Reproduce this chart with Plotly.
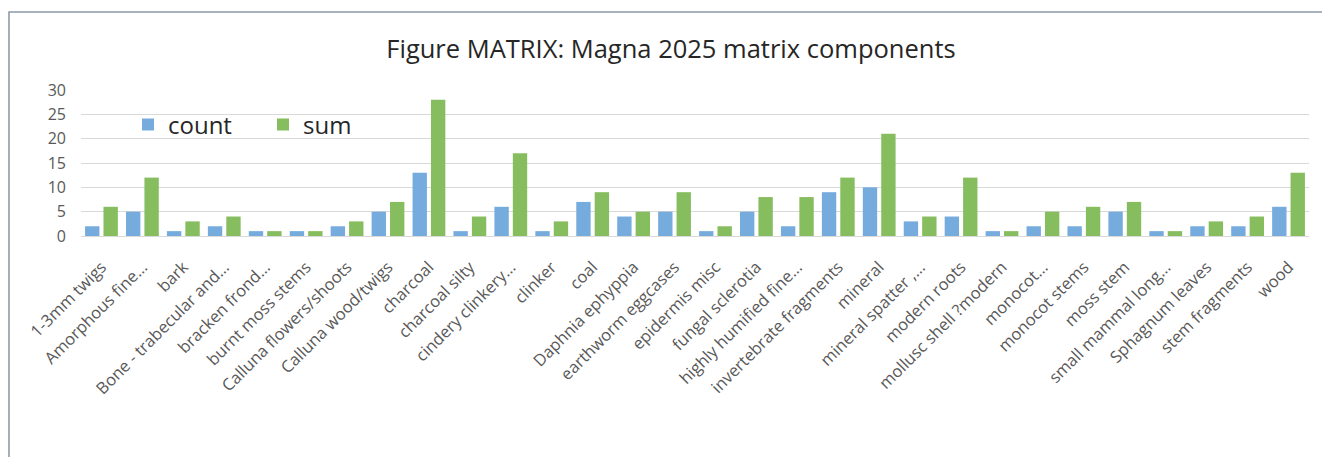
import plotly.graph_objects as go

# Matrix component categories and their tallies
categories = [
    "1-3mm twigs", "Amorphous fine…", "bark", "Bone - trabecular and…",
    "bracken frond…", "burnt moss stems", "Calluna flowers/shoots",
    "Calluna wood/twigs", "charcoal", "charcoal silty", "cindery clinkery…",
    "clinker", "coal", "Daphnia ephyppia", "earthworm eggcases",
    "epidermis misc", "fungal sclerotia", "highly humified fine…",
    "invertebrate fragments", "mineral", "mineral spatter ,…", "modern roots",
    "mollusc shell ?modern", "monocot…", "monocot stems", "moss stem",
    "small mammal long…", "Sphagnum leaves", "stem fragments", "wood",
]
count_values = [2, 5, 1, 2, 1, 1, 2, 5, 13, 1, 6, 1, 7, 4, 5,
                1, 5, 2, 9, 10, 3, 4, 1, 2, 2, 5, 1, 2, 2, 6]
sum_values = [6, 12, 3, 4, 1, 1, 3, 7, 28, 4, 17, 3, 9, 5, 9,
              2, 8, 8, 12, 21, 4, 12, 1, 5, 6, 7, 1, 3, 4, 13]

W, H = 1322, 457
L, R, T, B = 81, 13, 90, 221
PW, PH = W - L - R, H - T - B


def paper_x(px):
    return (px - L) / PW


def paper_y(py):
    return (H - B - py) / PH


FONT = "'Open Sans', Lato, sans-serif"

fig = go.Figure()
fig.add_bar(x=categories, y=count_values, name="count",
            marker=dict(color="#76abde", line=dict(width=0)))
fig.add_bar(x=categories, y=sum_values, name="sum",
            marker=dict(color="#86bd5e", line=dict(width=0)))

# Outer frame: left and top edges
fig.add_shape(type="path", xref="paper", yref="paper",
              path=f"M {paper_x(9)},{paper_y(H + 5)} L {paper_x(9)},{paper_y(12)} L {paper_x(W + 5)},{paper_y(12)}",
              line=dict(color="#8c9bab", width=1.6))

fig.update_layout(
    width=W, height=H,
    margin=dict(l=L, r=R, t=T, b=B, autoexpand=False),
    paper_bgcolor="white", plot_bgcolor="white",
    barmode="group", bargap=0.1, bargroupgap=0.22,
    font=dict(family=FONT, color="#595959"),
    title=dict(text="Figure MATRIX: Magna 2025 matrix components",
               x=671 / W, xref="container", xanchor="center",
               y=1 - 49 / H, yref="container", yanchor="middle",
               font=dict(family=FONT, size=25.5, color="#262626")),
    legend=dict(orientation="h", x=paper_x(128), y=paper_y(125),
                xanchor="left", yanchor="middle",
                font=dict(family=FONT, size=24, color="#262626"),
                bgcolor="rgba(0,0,0,0)", entrywidth=90),
    showlegend=True,
)
fig.update_yaxes(range=[0, 30], dtick=5, showgrid=True, gridcolor="#d9d9d9",
                 gridwidth=1, zeroline=False, showline=False, ticks="",
                 tickfont=dict(size=16, color="#595959"), ticklabelstandoff=14)
fig.update_xaxes(tickangle=-45, showline=True, linecolor="#d9d9d9", linewidth=1,
                 ticks="", tickfont=dict(size=16.5, color="#595959"),
                 ticklabelstandoff=14, showgrid=False)

fig.write_html("out.html")
